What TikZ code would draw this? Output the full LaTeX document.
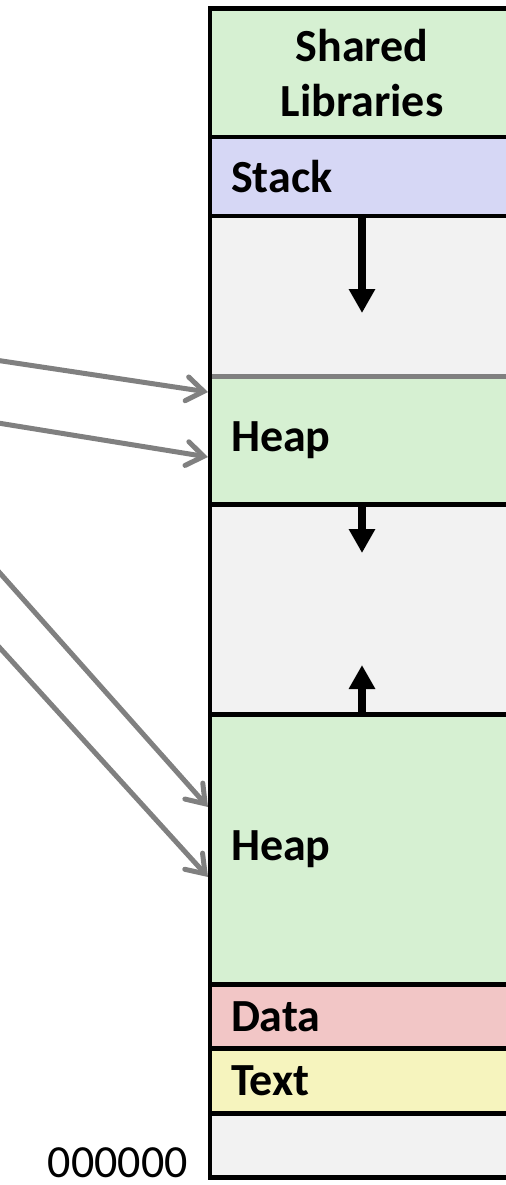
\documentclass[tikz,border=0pt]{standalone}
\usepackage{fontspec}
\setmainfont{Carlito}
\usetikzlibrary{arrows.meta}

\definecolor{libgreen}{RGB}{214,240,210}
\definecolor{stackblue}{RGB}{214,215,245}
\definecolor{freegray}{RGB}{242,242,242}
\definecolor{datared}{RGB}{242,198,198}
\definecolor{textyellow}{RGB}{246,244,190}
\definecolor{ptrgray}{RGB}{128,128,128}

\begin{document}
\begin{tikzpicture}[x=0.5pt, y=-0.5pt,
  seg/.style={draw, line width=2.2pt, outer sep=0pt, anchor=north west,
    inner xsep=10.5pt, inner ysep=0pt, minimum width=152pt, text width=131pt,
    align=left, font=\bfseries\fontsize{23}{27.6}\selectfont},
  growarrow/.style={line width=4pt, -{Triangle[length=12pt, width=12.5pt]}},
  ptr/.style={draw=ptrgray, line width=2.5pt, line cap=round,
    -{Straight Barb[length=8.5pt, width=12pt, line cap=round]}}]
  \useasboundingbox (0,0) rectangle (506,1185);

  % memory segments, top to bottom
  \node[seg, fill=libgreen, align=center, minimum height=64.25pt] (shlib) at (210,8.5) {Shared\\Libraries};
  \node[seg, fill=stackblue, minimum height=39.5pt] (stack) at (210,137) {Stack};
  \node[seg, fill=freegray, minimum height=80.25pt] (gapA) at (210,216) {};
  \node[seg, fill=libgreen, minimum height=64pt] (heapA) at (210,376.5) {Heap};
  \node[seg, fill=freegray, minimum height=105pt] (gapB) at (210,504.5) {};
  \node[seg, fill=libgreen, minimum height=135pt] (heapB) at (210,714.5) {Heap};
  \node[seg, fill=datared, minimum height=32pt] (data) at (210,984.5) {Data};
  \node[seg, fill=textyellow, minimum height=32.5pt] (text) at (210,1048.5) {Text};
  \node[seg, fill=freegray, minimum height=32pt] (gapC) at (210,1113.5) {};
  \draw[ptrgray, line width=2.5pt] ([xshift=1.1pt]heapA.north west) -- (heapA.north east);

  \node[anchor=base east, inner sep=0pt, font=\fontsize{23}{27.6}\selectfont] (addr) at (188,1177) {000000};

  % growth directions
  \coordinate (stackend) at (362,313);
  \coordinate (heapAend) at (362,553);
  \coordinate (heapBend) at (362,665);
  \draw[growarrow] (stack.south) -- (stackend);
  \draw[growarrow] (heapA.south) -- (heapAend);
  \draw[growarrow] (heapB.north) -- (heapBend);

  % pointers coming in from the left
  \coordinate (ptrA) at (-10,359.2);
  \coordinate (ptrB) at (-10,421.7);
  \coordinate (ptrC) at (-10,561.9);
  \coordinate (ptrD) at (-10,637);
  \draw[ptr] (ptrA) -- ([xshift=-1pt, yshift=-7.75pt]heapA.north west);
  \draw[ptr] (ptrB) -- ([xshift=-1pt, yshift=-40.25pt]heapA.north west);
  \draw[ptr] (ptrC) -- ([xshift=-1pt, yshift=-46.25pt]heapB.north west);
  \draw[ptr] (ptrD) -- ([xshift=-1pt, yshift=-81.25pt]heapB.north west);

\end{tikzpicture}
\end{document}
